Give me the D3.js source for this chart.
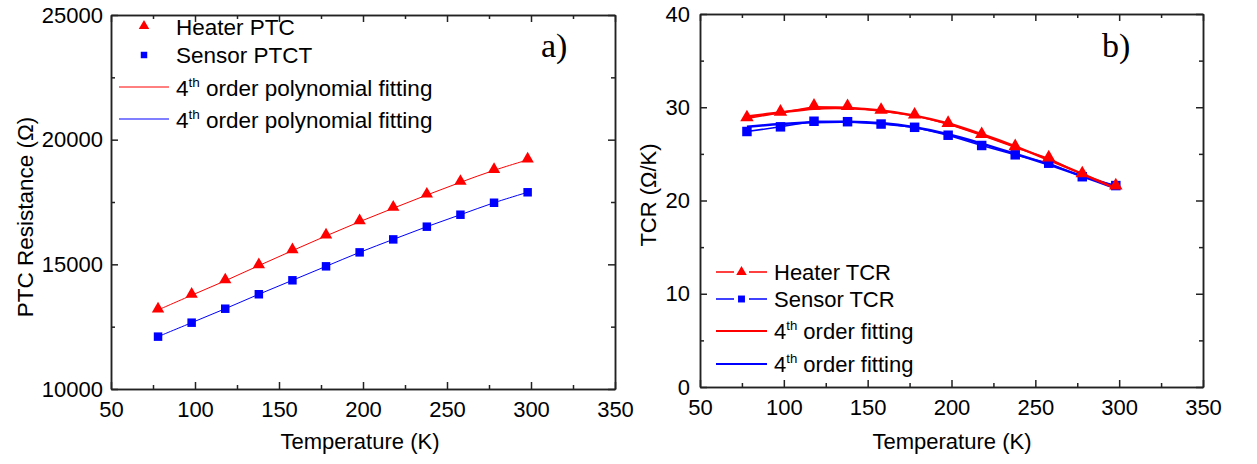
<!DOCTYPE html>
<meta charset="utf-8">
<style>

body { margin: 0; background: #fff; }

text {
  font-family: "Liberation Sans", Arial, sans-serif;
  fill: #000;
}

.axis path,
.axis line {
  stroke: #222;
  stroke-width: 1.5px;
}

.axis text {
  font-size: 22px;
}

.panel-label {
  font-family: "Liberation Serif", "Times New Roman", serif;
  font-size: 34px;
}

</style>
<svg width="1257" height="464"></svg>
<script src="https://d3js.org/d3.v7.min.js"></script>
<script>

// measured temperatures (K)
var temps = [78, 98, 118, 138, 158, 178, 198, 218, 238, 258, 278, 298];

// panel a) resistance (Ohm)
var heaterPTC = [13170, 13760, 14340, 14950, 15550, 16140, 16710, 17250, 17780, 18290, 18770, 19190];
var sensorPTC = [12100, 12660, 13220, 13800, 14360, 14920, 15480, 16000, 16510, 16990, 17470, 17890];

// panel b) TCR (Ohm/K)
var heaterTCR = [28.8, 29.4, 30.05, 30.0, 29.6, 29.1, 28.2, 27.0, 25.7, 24.5, 22.8, 21.5];
var sensorTCR = [27.4, 27.9, 28.5, 28.45, 28.2, 27.85, 27.0, 25.9, 24.9, 24.0, 22.55, 21.6];
var heaterTCRFit = [29.0, 29.45, 29.85, 29.9, 29.65, 29.1, 28.25, 27.1, 25.8, 24.35, 22.85, 21.3];
var sensorTCRFit = [27.9, 28.2, 28.4, 28.45, 28.3, 27.85, 27.1, 26.1, 25.0, 23.85, 22.6, 21.3];

var xTicks = [50, 100, 150, 200, 250, 300, 350];
var xMinor = [75, 125, 175, 225, 275, 325];
var yTicksA = [10000, 15000, 20000, 25000];
var yMinorA = [12500, 17500, 22500];
var yTicksB = [0, 10, 20, 30, 40];
var yMinorB = [5, 15, 25, 35];

var svg = d3.select("svg");

function frame(g, x, y, xMaj, xMin, yMaj, yMin, ypad) {
  var l = x.range()[0], r = x.range()[1], b = y.range()[0], t = y.range()[1];

  g.append("g").attr("class", "axis").attr("transform", "translate(0," + b + ")")
      .call(d3.axisBottom(x).tickValues(xMaj).tickSizeInner(-7).tickSizeOuter(0).tickPadding(12).tickFormat(d3.format("d")));
  g.append("g").attr("class", "axis").attr("transform", "translate(0," + b + ")")
      .call(d3.axisBottom(x).tickValues(xMin).tickSizeInner(-4).tickSizeOuter(0).tickFormat(""));
  g.append("g").attr("class", "axis").attr("transform", "translate(0," + t + ")")
      .call(d3.axisTop(x).tickValues(xMaj).tickSizeInner(-7).tickSizeOuter(0).tickFormat(""));
  g.append("g").attr("class", "axis").attr("transform", "translate(0," + t + ")")
      .call(d3.axisTop(x).tickValues(xMin).tickSizeInner(-4).tickSizeOuter(0).tickFormat(""));

  g.append("g").attr("class", "axis").attr("transform", "translate(" + l + ",0)")
      .call(d3.axisLeft(y).tickValues(yMaj).tickSizeInner(-7).tickSizeOuter(0).tickPadding(ypad).tickFormat(d3.format("d")));
  g.append("g").attr("class", "axis").attr("transform", "translate(" + l + ",0)")
      .call(d3.axisLeft(y).tickValues(yMin).tickSizeInner(-4).tickSizeOuter(0).tickFormat(""));
  g.append("g").attr("class", "axis").attr("transform", "translate(" + r + ",0)")
      .call(d3.axisRight(y).tickValues(yMaj).tickSizeInner(-7).tickSizeOuter(0).tickFormat(""));
  g.append("g").attr("class", "axis").attr("transform", "translate(" + r + ",0)")
      .call(d3.axisRight(y).tickValues(yMin).tickSizeInner(-4).tickSizeOuter(0).tickFormat(""));
}

function fitText(g, x, y, rest, size) {
  var t = g.append("text").attr("x", x).attr("y", y).style("font-size", size + "px");
  t.append("tspan").text("4");
  t.append("tspan").attr("dy", -size * 0.42).style("font-size", (size * 0.6) + "px").text("th");
  t.append("tspan").attr("dy", size * 0.42).text(" " + rest);
}

var tri = d3.symbol().type(d3.symbolTriangle);
var sq = d3.symbol().type(d3.symbolSquare);

// ---------- panel a ----------
var xa = d3.scaleLinear().domain([50, 350]).range([111, 615]);
var ya = d3.scaleLinear().domain([10000, 25000]).range([389, 15]);
var ga = svg.append("g");

var lineA = d3.line().curve(d3.curveCatmullRom)
    .x(function(d, i) { return xa(temps[i]); })
    .y(function(d) { return ya(d); });

ga.append("path").datum(heaterPTC).attr("d", lineA)
    .attr("fill", "none").attr("stroke", "#ff0000").attr("stroke-width", 1);
ga.append("path").datum(sensorPTC).attr("d", lineA)
    .attr("fill", "none").attr("stroke", "#0000ff").attr("stroke-width", 1);

ga.selectAll(".ha").data(heaterPTC).enter().append("path")
    .attr("d", tri.size(66))
    .attr("transform", function(d, i) { return "translate(" + xa(temps[i]) + "," + (ya(d) - 1) + ")"; })
    .attr("fill", "#ff0000");
ga.selectAll(".sa").data(sensorPTC).enter().append("path")
    .attr("d", sq.size(72))
    .attr("transform", function(d, i) { return "translate(" + xa(temps[i]) + "," + ya(d) + ")"; })
    .attr("fill", "#0000ff");

frame(ga, xa, ya, xTicks, xMinor, yTicksA, yMinorA, 8);

// legend a
ga.append("path").attr("d", tri.size(48)).attr("transform", "translate(144,26)").attr("fill", "#ff0000");
ga.append("path").attr("d", sq.size(42)).attr("transform", "translate(144,55)").attr("fill", "#0000ff");
ga.append("text").attr("x", 176).attr("y", 35).style("font-size", "22.5px").text("Heater PTC");
ga.append("text").attr("x", 176).attr("y", 63).style("font-size", "22.5px").text("Sensor PTCT");
ga.append("line").attr("x1", 119).attr("x2", 169).attr("y1", 87).attr("y2", 87).attr("stroke", "#ff0000").attr("stroke-width", 1);
ga.append("line").attr("x1", 119).attr("x2", 169).attr("y1", 119).attr("y2", 119).attr("stroke", "#0000ff").attr("stroke-width", 1);
fitText(ga, 176, 96, "order polynomial fitting", 22.5);
fitText(ga, 176, 128, "order polynomial fitting", 22.5);

ga.append("text").attr("class", "panel-label").attr("x", 541).attr("y", 57).text("a)");

ga.append("text").attr("x", 360).attr("y", 449).attr("text-anchor", "middle")
    .style("font-size", "22px").text("Temperature (K)");
ga.append("text").attr("transform", "translate(33,217) rotate(-90)").attr("text-anchor", "middle")
    .style("font-size", "22.5px").text("PTC Resistance (\u03A9)");

// ---------- panel b ----------
var xb = d3.scaleLinear().domain([50, 350]).range([700, 1203]);
var yb = d3.scaleLinear().domain([0, 40]).range([387, 14]);
var gb = svg.append("g");

var dataLine = d3.line()
    .x(function(d, i) { return xb(temps[i]); })
    .y(function(d) { return yb(d); });
var fitLine = d3.line().curve(d3.curveCatmullRom)
    .x(function(d, i) { return xb(temps[i]); })
    .y(function(d) { return yb(d); });

gb.append("path").datum(heaterTCR).attr("d", dataLine)
    .attr("fill", "none").attr("stroke", "#ff0000").attr("stroke-width", 1.5);
gb.append("path").datum(sensorTCR).attr("d", dataLine)
    .attr("fill", "none").attr("stroke", "#0000ff").attr("stroke-width", 1.5);
gb.append("path").datum(sensorTCRFit).attr("d", fitLine)
    .attr("fill", "none").attr("stroke", "#0000ff").attr("stroke-width", 2.5);
gb.append("path").datum(heaterTCRFit).attr("d", fitLine)
    .attr("fill", "none").attr("stroke", "#ff0000").attr("stroke-width", 2.5);

gb.selectAll(".sb").data(sensorTCR).enter().append("path")
    .attr("d", sq.size(90))
    .attr("transform", function(d, i) { return "translate(" + xb(temps[i]) + "," + yb(d) + ")"; })
    .attr("fill", "#0000ff");
gb.selectAll(".hb").data(heaterTCR).enter().append("path")
    .attr("d", tri.size(78))
    .attr("transform", function(d, i) { return "translate(" + xb(temps[i]) + "," + (yb(d) - 1) + ")"; })
    .attr("fill", "#ff0000");

frame(gb, xb, yb, xTicks, xMinor, yTicksB, yMinorB, 10);

// legend b
var legB = [
  { y: 272, color: "#ff0000", sym: tri, label: "Heater TCR" },
  { y: 299, color: "#0000ff", sym: sq, label: "Sensor TCR" }
];
legB.forEach(function(d) {
  gb.append("line").attr("x1", 716).attr("x2", 734).attr("y1", d.y).attr("y2", d.y).attr("stroke", d.color).attr("stroke-width", 1.5);
  gb.append("line").attr("x1", 749).attr("x2", 767).attr("y1", d.y).attr("y2", d.y).attr("stroke", d.color).attr("stroke-width", 1.5);
  gb.append("path").attr("d", d.sym.size(48)).attr("transform", "translate(741.5," + d.y + ")").attr("fill", d.color);
  gb.append("text").attr("x", 774).attr("y", d.y + 8).style("font-size", "22px").text(d.label);
});
gb.append("line").attr("x1", 716).attr("x2", 767).attr("y1", 331).attr("y2", 331).attr("stroke", "#ff0000").attr("stroke-width", 2);
gb.append("line").attr("x1", 716).attr("x2", 767).attr("y1", 364).attr("y2", 364).attr("stroke", "#0000ff").attr("stroke-width", 2);
fitText(gb, 774, 339, "order fitting", 22);
fitText(gb, 774, 372, "order fitting", 22);

gb.append("text").attr("class", "panel-label").attr("x", 1102).attr("y", 57).text("b)");

gb.append("text").attr("x", 952).attr("y", 449).attr("text-anchor", "middle")
    .style("font-size", "22px").text("Temperature (K)");
gb.append("text").attr("transform", "translate(656,195) rotate(-90)").attr("text-anchor", "middle")
    .style("font-size", "22px").text("TCR (\u03A9/K)");

</script>
